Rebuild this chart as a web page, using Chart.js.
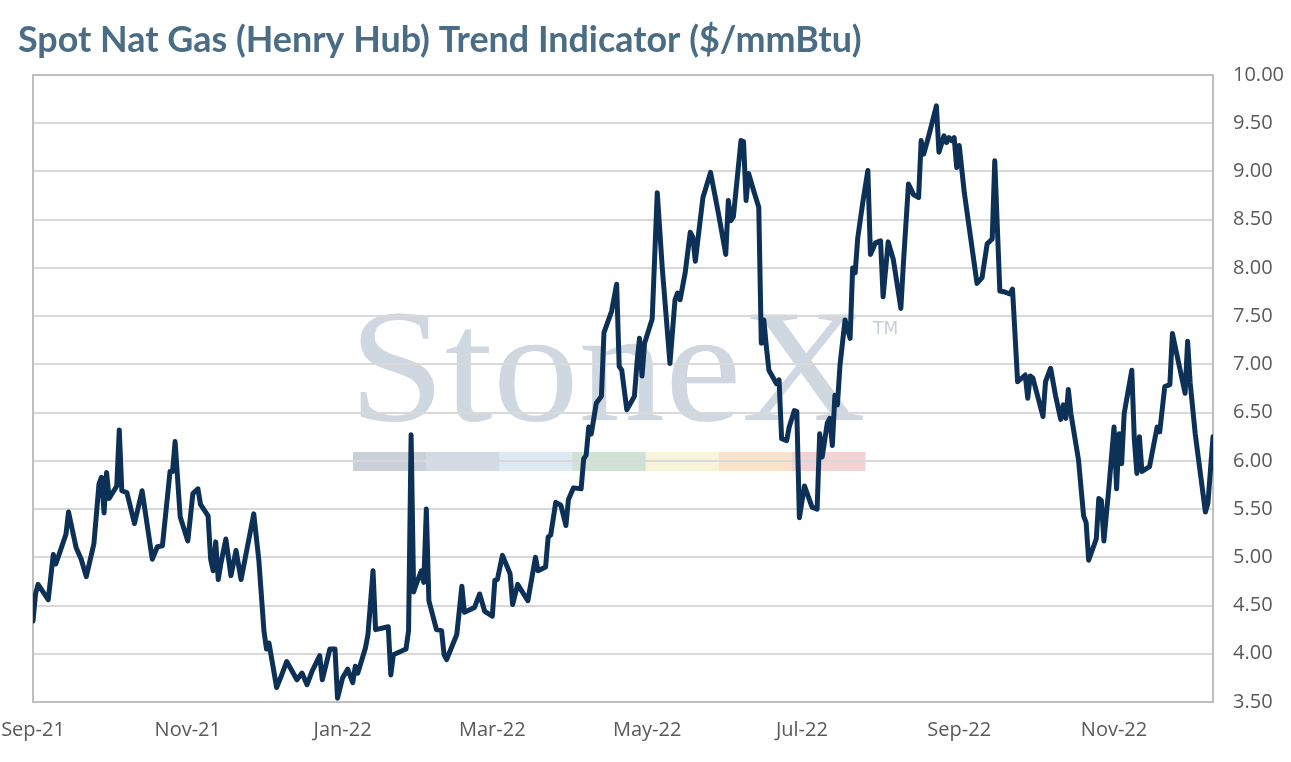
<!DOCTYPE html>
<html>
<head>
<meta charset="utf-8">
<title>Spot Nat Gas (Henry Hub) Trend Indicator</title>
<script src="https://cdn.jsdelivr.net/npm/chart.js"></script>
<style>
  html, body { margin: 0; padding: 0; background: #fff; }
  #wrap { width: 1291px; height: 762px; position: relative; }
</style>
</head>
<body>
<div id="wrap"><canvas id="gasChart"></canvas></div>
<script>
// days counted from 1 Sep 2021, prices
const days = [
  0, 1, 2, 6, 8, 9, 13, 14, 17, 19, 21, 24, 26, 27, 28, 29, 30, 33, 34, 35, 37, 40, 43, 47, 49, 51, 54, 55, 56, 58,
  61, 63, 65, 66, 69, 70, 71, 72, 73, 74, 76, 78, 80, 82, 87, 89, 91, 92, 93, 96, 98, 100, 104, 106, 108, 110, 113, 114, 117, 119,
  120, 122, 124, 126, 127, 128, 131, 132, 134, 135, 140, 141, 142, 147, 148, 149, 150, 151, 153, 154, 155, 156, 159, 161, 162, 163, 167, 169, 170, 174,
  176, 178, 181, 182, 183, 185, 188, 189, 191, 195, 198, 199, 202, 203, 204, 206, 208, 210, 211, 213, 216, 217, 218, 219, 220, 222, 224, 225, 228, 230,
  231, 232, 234, 237, 238, 239, 240, 241, 244, 246, 248, 251, 253, 254, 255, 257, 259, 260, 261, 264, 267, 270, 273, 274, 275, 276, 279, 280, 281, 282,
  284, 286, 287, 288, 289, 290, 293, 294, 295, 297, 298, 300, 301, 302, 304, 307, 309, 310, 311, 313, 314, 315, 316, 317, 318, 320, 322, 323, 324, 325,
  327, 329, 330, 332, 334, 335, 337, 339, 342, 343, 345, 347, 349, 350, 351, 353, 356, 357, 359, 360, 361, 362, 363, 364, 365, 367, 372, 374, 376, 378,
  379, 381, 383, 385, 386, 388, 391, 392, 393, 394, 398, 399, 401, 403, 405, 406, 407, 408, 409, 412, 414, 415, 416, 419, 420, 421, 422, 424, 426, 427,
  428, 429, 430, 433, 434, 435, 436, 437, 440, 441, 443, 444, 446, 448, 449, 454, 455, 456, 458, 462, 463, 465
];
const prices = [
  4.34, 4.62, 4.72, 4.56, 5.03, 4.93, 5.24, 5.47, 5.10, 4.98, 4.80, 5.14, 5.76, 5.83, 5.46, 5.88, 5.61, 5.74, 6.32, 5.69, 5.67, 5.35, 5.69, 4.98, 5.11, 5.12, 5.89, 5.89, 6.20, 5.42,
  5.17, 5.66, 5.71, 5.55, 5.43, 4.98, 4.86, 5.16, 4.77, 4.93, 5.19, 4.81, 5.07, 4.77, 5.45, 4.97, 4.24, 4.05, 4.11, 3.65, 3.78, 3.92, 3.73, 3.80, 3.68, 3.82, 3.98, 3.73, 4.05, 4.05,
  3.54, 3.75, 3.84, 3.70, 3.87, 3.80, 4.06, 4.20, 4.86, 4.25, 4.28, 3.78, 3.99, 4.05, 4.24, 6.27, 4.64, 4.72, 4.86, 4.74, 5.50, 4.55, 4.25, 4.24, 3.99, 3.94, 4.20, 4.70, 4.43, 4.48,
  4.62, 4.44, 4.39, 4.76, 4.77, 5.02, 4.83, 4.51, 4.72, 4.55, 5.00, 4.86, 4.90, 5.21, 5.23, 5.57, 5.54, 5.33, 5.60, 5.72, 5.71, 6.02, 6.06, 6.35, 6.28, 6.60, 6.67, 7.33, 7.55, 7.83,
  6.98, 6.94, 6.53, 6.67, 7.01, 7.27, 6.88, 7.22, 7.47, 8.78, 7.99, 7.01, 7.67, 7.74, 7.67, 7.95, 8.37, 8.32, 8.07, 8.73, 8.99, 8.58, 8.14, 8.70, 8.49, 8.53, 9.32, 9.31, 8.70, 8.98,
  8.80, 8.63, 7.22, 7.46, 7.18, 6.94, 6.80, 6.84, 6.23, 6.21, 6.35, 6.52, 6.51, 5.41, 5.74, 5.52, 5.50, 6.28, 6.04, 6.39, 6.44, 6.16, 6.68, 6.58, 6.99, 7.46, 7.27, 8.00, 7.95, 8.31,
  8.68, 9.01, 8.14, 8.26, 8.28, 7.70, 8.27, 8.09, 7.58, 8.05, 8.87, 8.76, 8.73, 9.32, 9.18, 9.37, 9.68, 9.20, 9.37, 9.30, 9.35, 9.32, 9.35, 9.04, 9.27, 8.78, 7.84, 7.90, 8.25, 8.30,
  9.11, 7.76, 7.75, 7.73, 7.78, 6.82, 6.89, 6.65, 6.88, 6.86, 6.46, 6.82, 6.96, 6.67, 6.43, 6.58, 6.44, 6.74, 6.49, 6.01, 5.43, 5.36, 4.97, 5.19, 5.61, 5.59, 5.17, 5.73, 6.35, 5.71,
  6.28, 5.97, 6.49, 6.94, 6.22, 5.87, 6.25, 5.89, 5.94, 6.08, 6.35, 6.30, 6.77, 6.79, 7.32, 6.70, 7.24, 6.81, 6.28, 5.47, 5.56, 6.25
];
const tickDays = [0, 61, 122, 181, 242, 303, 365, 426];
const tickLabels = ['Sep-21', 'Nov-21', 'Jan-22', 'Mar-22', 'May-22', 'Jul-22', 'Sep-22', 'Nov-22'];
const lastDay = 465;
const yMin = 3.5, yMax = 10, yStep = 0.5;

const titleText = 'Spot Nat Gas (Henry Hub) Trend Indicator ($/mmBtu)';

// title drawn at the top-left, stretched to the width it has in the picture
const titlePlugin = {
  id: 'titleText',
  afterDraw(chart) {
    const ctx = chart.ctx;
    ctx.save();
    ctx.font = '700 27px Lato';
    const w = ctx.measureText(titleText).width;
    const size = 27 * 844 / w;
    ctx.font = '700 ' + size.toFixed(2) + 'px Lato';
    ctx.fillStyle = '#4a6d85';
    ctx.textBaseline = 'middle';
    ctx.fillText(titleText, 18, 40);
    ctx.restore();
  }
};

// faint StoneX logo behind the grid
const watermark = {
  id: 'watermark',
  beforeDraw(chart) {
    const ctx = chart.ctx;
    const a = chart.chartArea;
    if (!a) return;
    ctx.save();
    const left = a.left + 316, right = a.left + 833;
    ctx.font = '160px "Liberation Serif"';
    const w = ctx.measureText('StoneX').width;
    const size = 160 * (right - left) / w;
    ctx.font = size.toFixed(1) + 'px "Liberation Serif"';
    ctx.fillStyle = '#cfd7e0';
    ctx.textBaseline = 'alphabetic';
    const base = a.top + 345;
    ctx.translate(left, base);
    ctx.scale(1, 0.93);
    ctx.fillText('StoneX', 0, 0);
    ctx.restore();
    ctx.save();
    ctx.font = '17px "DejaVu Sans"';
    ctx.fillStyle = '#c6ced7';
    ctx.fillText('TM', a.left + 840, a.top + 259);
    const barColors = ['#c9d0d9', '#d2dbe5', '#dde9f3', '#d0e1d6', '#f8f4da', '#fae3cb', '#f2d3d3'];
    const barLeft = a.left + 320, barRight = a.left + 832;
    const bw = (barRight - barLeft) / barColors.length;
    barColors.forEach((c, i) => {
      ctx.fillStyle = c;
      ctx.fillRect(barLeft + i * bw, a.top + 377, bw + 0.5, 19);
    });
    ctx.restore();
  }
};

// grey frame round the plot area
const frame = {
  id: 'frame',
  beforeDatasetsDraw(chart) {
    const ctx = chart.ctx;
    const a = chart.chartArea;
    ctx.save();
    ctx.strokeStyle = '#bfbfbf';
    ctx.lineWidth = 2;
    ctx.strokeRect(a.left, a.top, a.right - a.left, a.bottom - a.top);
    ctx.restore();
  }
};

const points = days.map((d, i) => ({ x: d, y: prices[i] }));

new Chart(document.getElementById('gasChart'), {
  type: 'line',
  data: {
    datasets: [{
      label: 'Henry Hub spot',
      data: points,
      borderColor: '#0d3156',
      borderWidth: 5,
      borderJoinStyle: 'round',
      borderCapStyle: 'round',
      pointRadius: 0,
      tension: 0,
      fill: false
    }]
  },
  options: {
    responsive: true,
    maintainAspectRatio: false,
    animation: false,
    layout: { padding: { top: 75, left: 33, right: 0, bottom: 20 } },
    plugins: {
      legend: { display: false },
      tooltip: { enabled: false }
    },
    scales: {
      x: {
        type: 'linear',
        min: 0,
        max: lastDay,
        afterBuildTicks: (scale) => {
          scale.ticks = tickDays.map(v => ({ value: v }));
        },
        afterFit: (scale) => {
          scale.height = 40;
          scale.paddingLeft = 0;
          scale.paddingRight = 0;
        },
        ticks: {
          autoSkip: false,
          maxRotation: 0,
          padding: 16,
          color: '#595959',
          font: { family: 'Open Sans', size: 20 },
          callback: (v) => tickLabels[tickDays.indexOf(v)]
        },
        grid: { display: false, drawTicks: false },
        border: { display: false }
      },
      y: {
        position: 'right',
        min: yMin,
        max: yMax,
        afterFit: (scale) => {
          scale.width = 78;
          scale.paddingTop = 0;
          scale.paddingBottom = 0;
        },
        ticks: {
          stepSize: yStep,
          padding: 20,
          color: '#595959',
          font: { family: 'Open Sans', size: 20 },
          callback: (v) => v.toFixed(2)
        },
        grid: { color: '#d9d9d9', lineWidth: 2, drawTicks: false },
        border: { display: false }
      }
    }
  },
  plugins: [watermark, frame, titlePlugin]
});
</script>
</body>
</html>
